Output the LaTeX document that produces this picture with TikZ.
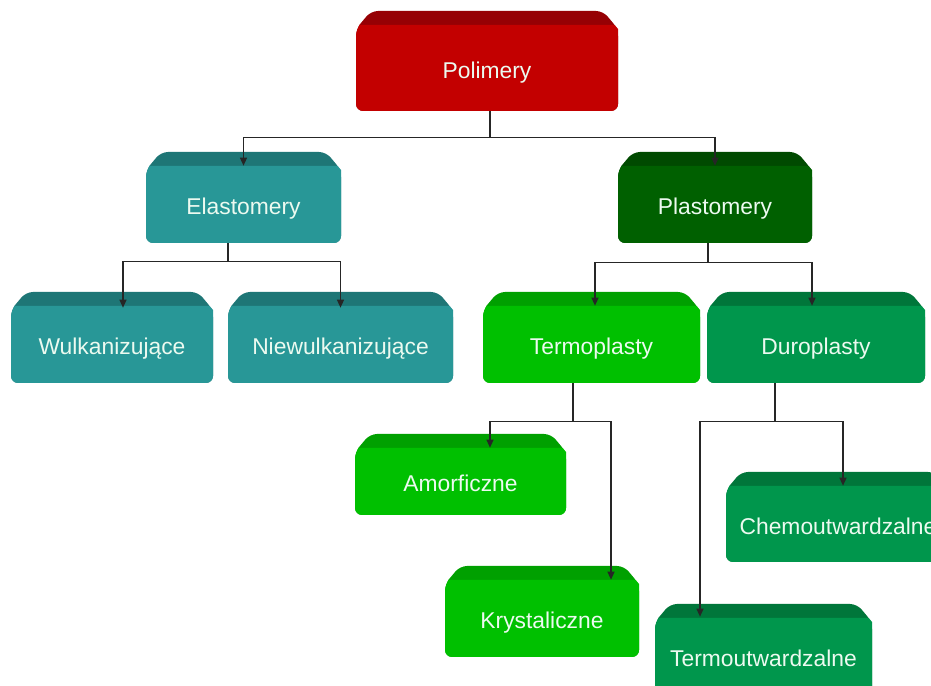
\documentclass[tikz,border=0pt]{standalone}
\usepackage{fontspec}
\setmainfont{Liberation Sans}
\usetikzlibrary{arrows.meta}
\definecolor{redbody}{RGB}{195,0,0}
\definecolor{redband}{RGB}{150,0,4}
\definecolor{tealbody}{RGB}{40,151,151}
\definecolor{tealband}{RGB}{30,118,118}
\definecolor{darkbody}{RGB}{0,96,0}
\definecolor{darkband}{RGB}{0,74,0}
\definecolor{limebody}{RGB}{0,192,0}
\definecolor{limeband}{RGB}{0,160,0}
\definecolor{seabody}{RGB}{0,150,76}
\definecolor{seaband}{RGB}{0,118,58}
\definecolor{txt}{RGB}{236,250,240}
\tikzset{
  blok/.style n args={2}{rectangle, inner sep=0pt, text=txt, font=\fontsize{13}{15}\selectfont,
    text height=0.79cm, text depth=0.1cm,
    path picture={
      \coordinate (nw) at (path picture bounding box.north west);
      \coordinate (ne) at (path picture bounding box.north east);
      \coordinate (sw) at (path picture bounding box.south west);
      \coordinate (se) at (path picture bounding box.south east);
      \fill[#2, rounded corners=0.14cm] ([shift={(0,-0.36)}]nw) -- ([shift={(0.3,0)}]nw) -- ([shift={(-0.3,0)}]ne) -- ([shift={(0,-0.36)}]ne) -- (se) -- (sw) -- cycle;
      \fill[#1] ([shift={(0.067,-0.28)}]nw) -- ([shift={(-0.067,-0.28)}]ne) -- ([shift={(0,-0.36)}]ne) [rounded corners=0.14cm] -- (se) -- (sw) -- ([shift={(0,-0.36)}]nw) [sharp corners] -- cycle;
    }},
  link/.style={line width=0.6pt, draw=black!85, -{Triangle[length=4.5pt,width=4pt]}},
}
\begin{document}
\begin{tikzpicture}
\useasboundingbox (0,0) rectangle (18.62,13.72);
\fill[white] (0,0) rectangle (18.62,13.72);
\node[blok={redbody}{redband}, minimum width=5.24cm, minimum height=2.0cm] (pol) at (9.74,12.5) {Polimery};
\node[blok={tealbody}{tealband}, minimum width=3.9cm, minimum height=1.82cm] (ela) at (4.87,9.77) {Elastomery};
\node[blok={darkbody}{darkband}, minimum width=3.88cm, minimum height=1.82cm] (pla) at (14.3,9.77) {Plastomery};
\node[blok={tealbody}{tealband}, minimum width=4.04cm, minimum height=1.82cm] (wul) at (2.24,6.97) {Wulkanizujące};
\node[blok={tealbody}{tealband}, minimum width=4.5cm, minimum height=1.82cm] (nie) at (6.81,6.97) {Niewulkanizujące};
\node[blok={limebody}{limeband}, minimum width=4.34cm, minimum height=1.82cm] (ter) at (11.83,6.97) {Termoplasty};
\node[blok={seabody}{seaband}, minimum width=4.36cm, minimum height=1.82cm] (dur) at (16.32,6.97) {Duroplasty};
\node[blok={limebody}{limeband}, minimum width=4.22cm, minimum height=1.62cm] (amo) at (9.21,4.23) {Amorficzne};
\node[blok={limebody}{limeband}, minimum width=3.88cm, minimum height=1.82cm] (kry) at (10.84,1.49) {Krystaliczne};
\node[blok={seabody}{seaband}, minimum width=4.48cm, minimum height=1.8cm] (che) at (16.76,3.38) {Chemoutwardzalne};
\node[blok={seabody}{seaband}, minimum width=4.34cm, minimum height=1.82cm] (tmo) at (15.27,0.73) {Termoutwardzalne};
\draw[link] ([xshift=0.06cm]pol.south) -- ++(0,-0.52) -| ([yshift=-0.28cm]ela.north);
\draw[link] ([xshift=0.06cm]pol.south) -- ++(0,-0.52) -| ([yshift=-0.28cm]pla.north);
\draw[link] ([xshift=-0.31cm]ela.south) -- ++(0,-0.36) -| ([xshift=0.22cm, yshift=-0.32cm]wul.north);
\draw[link] ([xshift=-0.31cm]ela.south) -- ++(0,-0.36) -| ([yshift=-0.32cm]nie.north);
\draw[link] ([xshift=-0.14cm]pla.south) -- ++(0,-0.38) -| ([xshift=0.07cm, yshift=-0.28cm]ter.north);
\draw[link] ([xshift=-0.14cm]pla.south) -- ++(0,-0.38) -| ([xshift=-0.08cm, yshift=-0.28cm]dur.north);
\draw[link] ([xshift=-0.37cm]ter.south) -- ++(0,-0.76) -| ([xshift=0.59cm, yshift=-0.28cm]amo.north);
\draw[link] ([xshift=-0.37cm]ter.south) -- ++(0,-0.76) -| ([xshift=1.38cm, yshift=-0.28cm]kry.north);
\draw[link] ([xshift=-0.82cm]dur.south) -- ++(0,-0.76) -| ([xshift=0.1cm, yshift=-0.28cm]che.north);
\draw[link] ([xshift=-0.82cm]dur.south) -- ++(0,-0.76) -| ([xshift=-1.27cm, yshift=-0.26cm]tmo.north);
\end{tikzpicture}
\end{document}
